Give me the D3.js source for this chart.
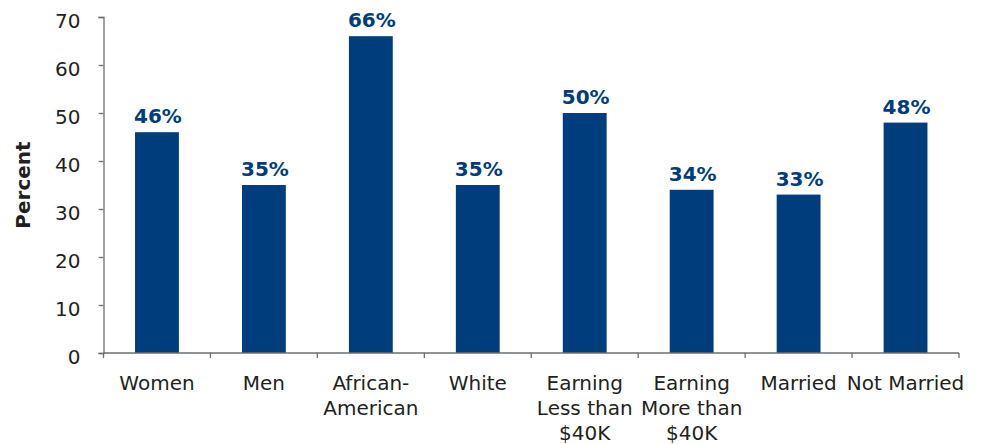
<!DOCTYPE html>
<html>
<head>
<meta charset="utf-8">
<script src="https://cdn.jsdelivr.net/npm/d3@7"></script>
<style>
  html, body { margin: 0; padding: 0; background: #fff; }
  svg { display: block; }
</style>
</head>
<body>
<svg id="chart" width="982" height="444"></svg>
<script>
const categories = [
  ["Women"],
  ["Men"],
  ["African-", "American"],
  ["White"],
  ["Earning", "Less than", "$40K"],
  ["Earning", "More than", "$40K"],
  ["Married"],
  ["Not Married"]
];
const values = [46, 35, 66, 35, 50, 34, 33, 48];
const yTicks = [0, 10, 20, 30, 40, 50, 60, 70];
const yTitle = "Percent";

const W = 982, H = 444;
const margin = { left: 103.5, right: 23, top: 17, bottom: 91 };
const svg = d3.select("#chart");
const barColor = "#003d7c";
const textColor = "#231f20";
const axisColor = "#6d6e71";

const keys = categories.map((c, i) => i);
const x = d3.scaleBand().domain(keys).range([margin.left, W - margin.right]).padding(0);
const y = d3.scaleLinear().domain([0, 70]).range([H - margin.bottom, margin.top]);
const bw = x.bandwidth() * 0.41;

// bars
svg.append("g").selectAll("rect").data(values).join("rect")
  .attr("x", (d, i) => x(i) + (x.bandwidth() - bw) / 2)
  .attr("y", d => y(d))
  .attr("width", bw)
  .attr("height", d => y(0) - y(d))
  .attr("fill", barColor);

// value labels
svg.append("g").selectAll("text").data(values).join("text")
  .attr("x", (d, i) => x(i) + x.bandwidth() / 2 + 1)
  .attr("y", d => y(d) - 9)
  .attr("text-anchor", "middle")
  .attr("font-family", "DejaVu Sans")
  .attr("font-weight", "bold")
  .attr("font-size", 20)
  .attr("fill", barColor)
  .text(d => d + "%");

// y axis
const yAxis = d3.axisLeft(y).tickValues(yTicks).tickSize(5).tickPadding(0);
const gy = svg.append("g").attr("transform", `translate(${margin.left},0)`).call(yAxis);
gy.select(".domain").attr("stroke", axisColor).attr("stroke-width", 1.3);
gy.selectAll(".tick line").attr("stroke", axisColor).attr("stroke-width", 1.3);
gy.selectAll(".tick text")
  .attr("x", -23)
  .attr("dy", "0.32em")
  .attr("y", 4)
  .attr("font-family", "DejaVu Sans")
  .attr("font-size", 20)
  .attr("fill", textColor);

// x axis
const boundaries = keys.map(k => x(k)).concat([W - margin.right]);
const gx = svg.append("g");
gx.append("line")
  .attr("x1", margin.left).attr("x2", W - margin.right)
  .attr("y1", y(0)).attr("y2", y(0))
  .attr("stroke", axisColor).attr("stroke-width", 1.3);
gx.selectAll("line.tk").data(boundaries).join("line")
  .attr("class", "tk")
  .attr("x1", d => d).attr("x2", d => d)
  .attr("y1", y(0)).attr("y2", y(0) + 5)
  .attr("stroke", axisColor).attr("stroke-width", 1.3);

const lbl = svg.append("g").selectAll("text").data(categories).join("text")
  .attr("text-anchor", "middle")
  .attr("font-family", "DejaVu Sans")
  .attr("font-size", 20)
  .attr("fill", textColor)
  .attr("transform", (d, i) => `translate(${x(i) + x.bandwidth() / 2},390)`);
lbl.selectAll("tspan").data(d => d).join("tspan")
  .attr("x", 0)
  .attr("y", (d, j) => j * 25)
  .text(d => d);

// y title
svg.append("text")
  .attr("transform", `translate(30,${(y(0) + y(70)) / 2}) rotate(-90)`)
  .attr("text-anchor", "middle")
  .attr("font-family", "DejaVu Sans")
  .attr("font-weight", "bold")
  .attr("font-size", 20)
  .attr("fill", textColor)
  .text(yTitle);
</script>
</body>
</html>
